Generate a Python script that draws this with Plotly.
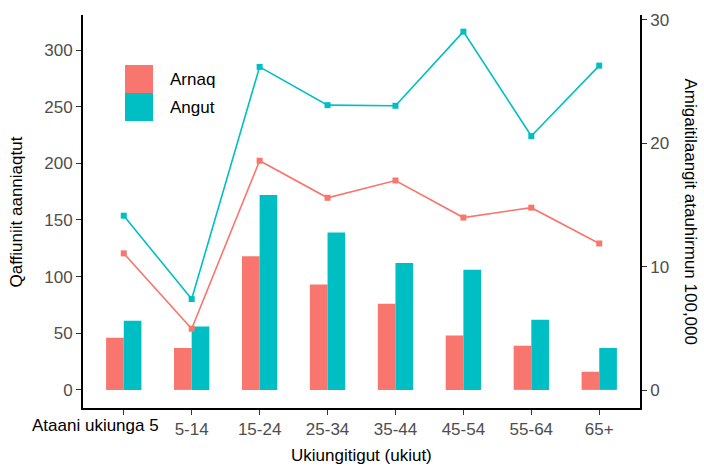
import plotly.graph_objects as go

categories = ["Ataani ukiunga 5", "5-14", "15-24", "25-34", "35-44", "45-54", "55-64", "65+"]
tick_labels = ["", "5-14", "15-24", "25-34", "35-44", "45-54", "55-64", "65+"]
first_tick_label = "Ataani ukiunga 5"
arnaq_counts = [46, 37, 118, 93, 76, 48, 39, 16]
angut_counts = [61, 56, 172, 139, 112, 106, 62, 37]
arnaq_rate = [11.1, 5.0, 18.6, 15.6, 17.0, 14.0, 14.8, 11.9]
angut_rate = [14.15, 7.4, 26.2, 23.1, 23.05, 29.05, 20.6, 26.3]
series_names = ["Arnaq", "Angut"]

RED = "#F8766D"
TEAL = "#00BFC4"
FONT = "Liberation Sans, Arial, sans-serif"
GREY = "#4D4D4D"

fig = go.Figure()
fig.add_trace(go.Bar(x=categories, y=arnaq_counts, name=series_names[0], marker_color=RED,
                     marker_line_width=0, showlegend=False))
fig.add_trace(go.Bar(x=categories, y=angut_counts, name=series_names[1], marker_color=TEAL,
                     marker_line_width=0, showlegend=False))
fig.add_trace(go.Scatter(x=categories, y=arnaq_rate, yaxis="y2", mode="lines+markers",
                         line=dict(color=RED, width=1.6), marker=dict(symbol="square", size=6, color=RED),
                         showlegend=False))
fig.add_trace(go.Scatter(x=categories, y=angut_rate, yaxis="y2", mode="lines+markers",
                         line=dict(color=TEAL, width=1.6), marker=dict(symbol="square", size=6, color=TEAL),
                         showlegend=False))

axis_common = dict(showgrid=False, zeroline=False, showline=True, linecolor="black", linewidth=1.8,
                   ticks="outside", ticklen=5, tickcolor="#333333", tickwidth=1.2, automargin=False,
                   tickfont=dict(family=FONT, size=17, color=GREY))

fig.update_layout(
    width=704, height=466,
    margin=dict(l=83, r=64, t=15, b=58),
    paper_bgcolor="white", plot_bgcolor="white",
    barmode="group", bargap=0.48, bargroupgap=0,
    font=dict(family=FONT, size=17, color="black"),
    xaxis=dict(type="category", categoryorder="array", categoryarray=categories,
               tickvals=categories, ticktext=tick_labels, tickangle=0, range=[-0.6, 7.6], **axis_common),
    yaxis=dict(range=[-16, 331], tickvals=[0, 50, 100, 150, 200, 250, 300], **axis_common),
    yaxis2=dict(overlaying="y", side="right", range=[-1.42, 30.4], tickvals=[0, 10, 20, 30],
                **axis_common),
)

# legend keys (drawn manually to get ggplot-sized keys)
key_x0, key_x1 = 0.0754, 0.1257
keys = [(0.8015, 0.8728, RED), (0.7303, 0.8015, TEAL)]
for (y0, y1, c), name in zip(keys, series_names):
    fig.add_shape(type="rect", xref="paper", yref="paper", x0=key_x0, x1=key_x1, y0=y0, y1=y1,
                  fillcolor=c, line=dict(width=0), layer="above")
    fig.add_annotation(xref="paper", yref="paper", x=0.1526, y=(y0 + y1) / 2, text=name,
                       showarrow=False, xanchor="left", yanchor="middle",
                       font=dict(family=FONT, size=17, color="black"))

# first x tick label (black, offset to the left as in the reference)
fig.add_annotation(xref="x", yref="paper", x=categories[0], y=-0.0433, text=first_tick_label,
                   showarrow=False, xanchor="right", yanchor="middle", xshift=37,
                   font=dict(family=FONT, size=17, color="black"))

fig.add_annotation(xref="paper", yref="paper", x=0.5, y=-0.1196, text="Ukiungitigut (ukiut)",
                   showarrow=False, xanchor="center", yanchor="middle",
                   font=dict(family=FONT, size=17, color="black"))
fig.add_annotation(xref="paper", yref="paper", x=-0.1185, y=0.5, text="Qaffiuniit aanniaqtut",
                   showarrow=False, xanchor="center", yanchor="middle", textangle=-90,
                   font=dict(family=FONT, size=17, color="black"))
fig.add_annotation(xref="paper", yref="paper", x=1.0898, y=0.5, text="Amigaitilaangit atauhirmun 100,000",
                   showarrow=False, xanchor="center", yanchor="middle", textangle=90,
                   font=dict(family=FONT, size=17, color="black"))

fig.write_html("out.html", config={"displayModeBar": False})

# remove the default page margin so the figure sits at the window's top-left corner
with open("out.html", encoding="utf-8") as f:
    html = f.read()
html = html.replace("<body>", "<body style=\"margin:0;overflow:hidden\">", 1)
with open("out.html", "w", encoding="utf-8") as f:
    f.write(html)
